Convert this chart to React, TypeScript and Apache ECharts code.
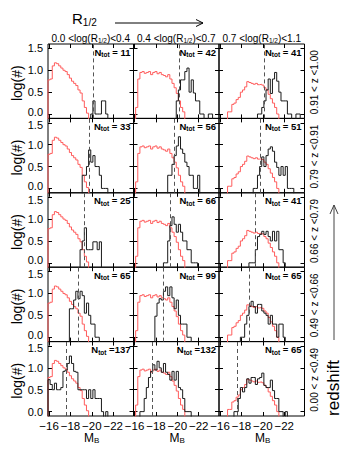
import { useEffect, useRef } from 'react';
import * as echarts from 'echarts';

// ---------------- data ----------------
const sizeEdges = ['0.0', '0.4', '0.7', '1.1']; // log(R1/2) bin edges per column
const redshiftLabels = ['0.91 < z <1.00', '0.79 < z <0.91', '0.66 < z <0.79', '0.49 < z <0.66', '0.00 < z <0.49'];
const nTot = [
  [11, 42, 41],
  [33, 56, 51],
  [25, 66, 41],
  [65, 99, 65],
  [137, 132, 65],
];
const magLimits = [-20.15, -19.75, -19.3, -18.7, -17.65];
const magTicks = [-16, -18, -20, -22];
const logTicks = [0, 0.5, 1.0, 1.5];

// histogram bins of 0.2 mag; bin k spans MAG_START-0.2k .. MAG_START-0.2(k+1); values are log(#), null = empty
const MAG_START = -15.9;
const MAG_END = -23.9;
const BIN = 0.2;

const redStart = [0, 1, 4];
const redCol1 = [0.78, 0.8, 1.1, 1.17, 1.15, 1.1, 1.05, 1.0, 0.97, 0.9, 0.82, 0.75, 0.7, 0.65, 0.55, 0.48, 0.3, 0.15, 0.02];
const redCol2 = [0.15, 0.8, 0.95, 0.97, 0.93, 0.95, 0.97, 0.9, 0.95, 0.97, 0.92, 0.95, 0.9, 0.88, 0.85, 0.9, 0.8, 0.7, 0.6, 0.47, 0.3, 0.15, 0.05];
const redCol3 = [0.05, 0.05, 0.22, 0.25, 0.33, 0.38, 0.5, 0.55, 0.62, 0.74, 0.72, 0.7, 0.68, 0.7, 0.67, 0.68, 0.66, 0.6, 0.55, 0.45, 0.35, 0.25, 0.15, 0.0];

const blackStart = [
  [20, 20, 18],
  [16, 16, 16],
  [15, 14, 14],
  [10, 10, 10],
  [0, 3, 7],
];
const blackR1C1 = [0, 0.3, 0, 0, 0, 0.3, 0.3, 0];
const blackR1C2 = [0.3, 0.55, 0.78, 0.78, 0.97, 1.05, 0.5, 0.78, 0.48, 0.3, 0.3, 0.0, 0.0, null, null, 0.0, 0.0];
const blackR1C3 = [0.0, 0.0, 0.15, 0.3, 0.55, 0.8, 0.47, 0.8, 0.95, 0.75, 0.5, 0.3, 0.3, 0.3, 0.0, 0.0, null, null, 0.0, 0.0];
const blackR2C1 = [0.3, 0.3, 0.5, 0.88, 0.6, 0.75, 0.5, 0.5, 0.3, 0.0, 0.0, 0.0];
const blackR2C2 = [0.3, 0.3, 0.55, 0.75, 0.97, 1.18, 0.9, 0.8, 0.6, 0.5, 0.3, 0.3, 0.0, 0.0, 0.3];
const blackR2C3 = [0.0, 0.0, 0.3, 0.5, 0.72, 0.5, 0.75, 0.9, 0.95, 0.85, 0.6, 0.48, 0.3, 0.5, 0.3, 0.5, 0.0, 0.0, 0.0];
const blackR3C1 = [0.3, 0.5, 0.8, 0.3, 0.3, 0.3, 0.48, 0.48, 0.3, 0.48];
const blackR3C2 = [0, 0, 0.5, 0.85, 1.05, 0.88, 0.7, 0.88, 0.7, 0.5, 0.5, 0.3, 0.3, 0.0, 0.0, 0.0];
const blackR3C3 = [0, 0, 0, 0.3, 0.6, 0.65, 0.72, 0.65, 0.72, 0.6, 0.5, 0.72, 0.5, 0.72, 0.3, 0.3, 0.0];
const blackR4C1 = [0.65, 0.65, 0.85, 1.05, 0.88, 1.05, 0.95, 0.55, 0.78, 0.5, 0.3, 0.3, 0.0, 0.0];
const blackR4C2 = [0.48, 0.78, 0.88, 0.85, 1.05, 1.15, 0.95, 1.15, 0.9, 0.65, 0.85, 0.5, 0.3, 0.3, 0.3, 0.0, 0.0];
const blackR4C3 = [0.0, 0.0, 0.3, 0.5, 0.7, 0.82, 0.7, 0.55, 0.75, 0.75, 0.6, 0.55, 0.5, 0.3, 0.5, 0.3, 0.3, 0.0, 0.3, 0.3, 0.0];
const blackR5C1 = [0.73, 0.62, 0.5, 0.65, 0.5, 0.5, 0.55, 0.92, 0.95, 1.1, 1.27, 1.1, 0.92, 0.9, 0.5, 0.5, 0.5, 0.5, 0.3, 0.5, 0.3, 0.5, 0.3, 0.3, 0.3, 0.0, null, 0.0];
const blackR5C2 = [0.0, 0.0, 0.3, 0.55, 0.78, 0.92, 1.07, 0.95, 1.15, 1.0, 0.9, 1.1, 0.9, 0.85, 0.72, 0.92, 0.72, 0.92, 0.55, 0.5, 0.3, 0.0, 0.0, 0.0];
const blackR5C3 = [0.0, 0.0, 0.3, 0.55, 0.45, 0.55, 0.75, 0.65, 0.78, 0.78, 0.62, 0.75, 0.78, 0.88, 0.6, 0.55, 0.55, 0.72, 0.48, 0.3, 0.3, 0.0, 0.0, null, 0.0];

const redHists = [redCol1, redCol2, redCol3];
const blackHists = [
  [blackR1C1, blackR1C2, blackR1C3],
  [blackR2C1, blackR2C2, blackR2C3],
  [blackR3C1, blackR3C2, blackR3C3],
  [blackR4C1, blackR4C2, blackR4C3],
  [blackR5C1, blackR5C2, blackR5C3],
];

// ---------------- layout / style ----------------
const W = 360;
const H = 468;
const LEFT = 48;
const TOP = 44;
const COL_W = 85.5;
const ROW_H = 74.4;
const Y_MIN = -0.1;
const Y_MAX = 1.6;
const EMPTY = -1;
const FONT = '"Liberation Sans", Arial, Helvetica, sans-serif';
const RED = '#ff5c5c';
const BLACK = '#1a1a1a';

function edge(k: number) {
  return +(MAG_START - BIN * k).toFixed(4);
}

function hist(start: number, vals: (number | null)[]) {
  const pts: number[][] = [[edge(start), EMPTY]];
  vals.forEach((v, i) => {
    const y = v == null ? EMPTY : v;
    pts.push([edge(start + i), y], [edge(start + i + 1), y]);
  });
  pts.push([edge(start + vals.length), EMPTY]);
  return pts;
}

let measureCtx: CanvasRenderingContext2D | null = null;
function tw(text: string, size: number, weight = 'normal') {
  if (!measureCtx) measureCtx = document.createElement('canvas').getContext('2d');
  if (!measureCtx) return text.length * size * 0.55;
  measureCtx.font = `${weight} ${size}px ${FONT}`;
  return measureCtx.measureText(text).width;
}

type Part = { t: string; size: number; dy?: number; weight?: string };
function run(parts: Part[], x: number, y: number, align: 'left' | 'center' | 'right') {
  const widths = parts.map((p) => tw(p.t, p.size, p.weight));
  const total = widths.reduce((a, b) => a + b, 0);
  let cx = align === 'left' ? x : align === 'center' ? x - total / 2 : x - total;
  const els: any[] = [];
  parts.forEach((p, i) => {
    const trimmed = p.t.replace(/^\s+/, '');
    const lead = p.t.length - trimmed.length;
    const off = lead ? tw(p.t.slice(0, lead), p.size, p.weight) : 0;
    els.push({
      type: 'text',
      x: cx + off,
      y: y + (p.dy || 0),
      silent: true,
      style: {
        text: trimmed,
        fontSize: p.size,
        fontFamily: FONT,
        fontWeight: p.weight || 'normal',
        fill: '#000',
        textAlign: 'left',
        textVerticalAlign: 'middle',
      },
    });
    cx += widths[i];
  });
  return els;
}

function rotText(text: string, x: number, y: number, size: number, color = '#000') {
  return {
    type: 'text',
    x,
    y,
    rotation: Math.PI / 2,
    silent: true,
    style: {
      text,
      fontSize: size,
      fontFamily: FONT,
      fill: color,
      textAlign: 'center',
      textVerticalAlign: 'middle',
    },
  };
}

function buildOption() {
  const grid: any[] = [];
  const xAxis: any[] = [];
  const yAxis: any[] = [];
  const series: any[] = [];
  const graphic: any[] = [];
  const tickStyle = { color: '#000', width: 1 };

  for (let r = 0; r < 5; r++) {
    for (let c = 0; c < 3; c++) {
      const idx = r * 3 + c;
      const left = LEFT + c * COL_W;
      const top = TOP + r * ROW_H;
      grid.push({
        left,
        top,
        width: COL_W,
        height: ROW_H,
        show: true,
        borderColor: '#000',
        borderWidth: 1,
        backgroundColor: 'transparent',
      });
      const xb = {
        gridIndex: idx,
        type: 'value',
        inverse: true,
        min: MAG_END,
        max: MAG_START,
        splitLine: { show: false },
        axisLine: { show: false, onZero: false },
      };
      xAxis.push({
        ...xb,
        position: 'bottom',
        axisTick: { show: true, inside: true, length: 4, customValues: magTicks, lineStyle: tickStyle },
        axisLabel:
          r === 4
            ? {
                show: true,
                customValues: magTicks,
                formatter: (v: number) => '\u2212' + Math.abs(v),
                fontSize: 11.5,
                fontFamily: FONT,
                color: '#000',
                margin: 4,
              }
            : { show: false },
      });
      xAxis.push({
        ...xb,
        position: 'top',
        axisTick: { show: true, inside: true, length: 4, customValues: magTicks, lineStyle: tickStyle },
        axisLabel: { show: false },
      });
      const yb = {
        gridIndex: idx,
        type: 'value',
        min: Y_MIN,
        max: Y_MAX,
        splitLine: { show: false },
        axisLine: { show: false, onZero: false },
      };
      yAxis.push({
        ...yb,
        position: 'left',
        axisTick: { show: true, inside: true, length: 4, customValues: logTicks, lineStyle: tickStyle },
        axisLabel:
          c === 0
            ? {
                show: true,
                customValues: logTicks,
                formatter: (v: number) => {
                  const s = v.toFixed(1);
                  if (v === 0 && r < 4) return `{lo|${s}}`;
                  if (v === 1.5 && r > 0) return `{hi|${s}}`;
                  return `{n|${s}}`;
                },
                rich: {
                  n: { fontSize: 11, fontFamily: FONT, color: '#000', lineHeight: 12 },
                  lo: { fontSize: 11, fontFamily: FONT, color: '#000', lineHeight: 12, padding: [0, 0, 5, 0] },
                  hi: { fontSize: 11, fontFamily: FONT, color: '#000', lineHeight: 12, padding: [5, 0, 0, 0] },
                },
                fontSize: 11,
                fontFamily: FONT,
                color: '#000',
                margin: 5,
              }
            : { show: false },
      });
      yAxis.push({
        ...yb,
        position: 'right',
        axisTick: { show: true, inside: true, length: 4, customValues: logTicks, lineStyle: tickStyle },
        axisLabel: { show: false },
      });

      series.push({
        type: 'line',
        xAxisIndex: idx * 2,
        yAxisIndex: idx * 2,
        data: hist(redStart[c], redHists[c]),
        showSymbol: false,
        symbol: 'none',
        clip: true,
        silent: true,
        z: 2,
        lineStyle: { color: RED, width: 1 },
      });
      series.push({
        type: 'line',
        xAxisIndex: idx * 2,
        yAxisIndex: idx * 2,
        data: hist(blackStart[r][c], blackHists[r][c]),
        showSymbol: false,
        symbol: 'none',
        clip: true,
        silent: true,
        z: 3,
        lineStyle: { color: BLACK, width: 1 },
        markLine: {
          silent: true,
          symbol: 'none',
          label: { show: false },
          lineStyle: { type: [4, 3], color: '#555', width: 1 },
          data: [{ xAxis: magLimits[r] }],
        },
      });

      // N_tot label
      const nStr = ' =' + String(nTot[r][c]).padStart(3, ' ');
      graphic.push(
        ...run(
          [
            { t: 'N', size: 9.5, weight: 'bold' },
            { t: 'tot', size: 6.5, weight: 'bold', dy: 2.5 },
            { t: nStr, size: 9.5, weight: 'bold' },
          ],
          left + COL_W - 3,
          top + 8,
          'right'
        )
      );
    }
    // row labels
    const rowMid = TOP + r * ROW_H + ROW_H / 2;
    graphic.push(rotText('log(#)', 17, rowMid + 2, 14));
    graphic.push(rotText(redshiftLabels[r], 314, rowMid + 1, 10));
  }

  for (let c = 0; c < 3; c++) {
    const mid = LEFT + c * COL_W + COL_W / 2;
    graphic.push(
      ...run(
        [
          { t: `${sizeEdges[c]} <log(R`, size: 10 },
          { t: '1/2', size: 6.5, dy: 2.5 },
          { t: `)<${sizeEdges[c + 1]}`, size: 10 },
        ],
        mid,
        38,
        'center'
      )
    );
    graphic.push(
      ...run(
        [
          { t: 'M', size: 12 },
          { t: 'B', size: 8, dy: 2.5 },
        ],
        mid + 1,
        438,
        'center'
      )
    );
  }

  // R1/2 title with arrow
  graphic.push(...run([{ t: 'R', size: 15 }, { t: '1/2', size: 10, dy: 3.5 }], 72, 18.5, 'left'));
  graphic.push({ type: 'line', silent: true, shape: { x1: 115, y1: 23, x2: 203, y2: 23 }, style: { stroke: '#000', lineWidth: 1 } });
  graphic.push({
    type: 'polyline',
    silent: true,
    shape: { points: [[196, 19.5], [203, 23], [196, 26.5]] },
    style: { stroke: '#000', lineWidth: 1, fill: null },
  });

  // redshift label with arrow
  graphic.push(rotText('redshift', 333, 388, 17));
  graphic.push({ type: 'line', silent: true, shape: { x1: 334, y1: 340, x2: 334, y2: 205 }, style: { stroke: '#444', lineWidth: 1 } });
  graphic.push({
    type: 'polyline',
    silent: true,
    shape: { points: [[330, 214], [334, 205], [338, 214]] },
    style: { stroke: '#444', lineWidth: 1, fill: null },
  });

  return {
    animation: false,
    backgroundColor: '#fff',
    grid,
    xAxis,
    yAxis,
    series,
    graphic: { elements: graphic },
  };
}

export default function App() {
  const ref = useRef<HTMLDivElement>(null);
  useEffect(() => {
    if (!ref.current) return;
    const chart = echarts.init(ref.current, undefined, { renderer: 'svg', width: W, height: H });
    chart.setOption(buildOption() as any);
    return () => chart.dispose();
  }, []);
  return (
    <div style={{ position: 'fixed', left: 0, top: 0, width: W, height: H, background: '#fff' }}>
      <div ref={ref} style={{ width: W, height: H }} />
    </div>
  );
}
